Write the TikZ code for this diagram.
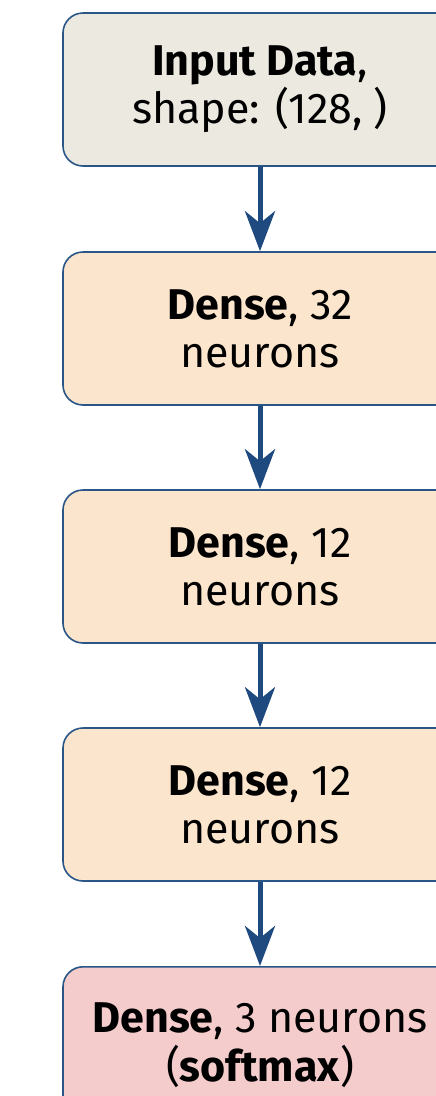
\documentclass[tikz,border=0pt]{standalone}
\usepackage{fontspec}
\setmainfont{Fira Sans}
\usetikzlibrary{arrows.meta}
\definecolor{edgeblue}{HTML}{2A5587}
\definecolor{arrowblue}{HTML}{1F4A80}
\definecolor{inputfill}{HTML}{ECE9E0}
\definecolor{densefill}{HTML}{FCE5CD}
\definecolor{outfill}{HTML}{F4CCCC}
\tikzset{
  layerfont/.style={font=\fontsize{43}{48}\selectfont},
  layer/.style={draw=edgeblue, line width=1.6pt, rounded corners=20pt,
    minimum width=394pt, minimum height=153pt, align=center,
    inner sep=0pt, layerfont},
  flow/.style={draw=arrowblue, line width=5pt,
    -{Stealth[length=40pt, width=30pt, inset=12pt]}},
}
\begin{document}
\begin{tikzpicture}[x=1pt, y=1pt]
\useasboundingbox (0,0) rectangle (436,-1096);
\clip (0,0) rectangle (436,-1096);
\node[layer, fill=inputfill] (in) at (260,-89.5) {\textbf{Input Data},\\shape: (128, )};
\node[layer, fill=densefill] (d1) at (260,-328.5) {\textbf{Dense}, 32\\neurons};
\node[layer, fill=densefill] (d2) at (260,-566.5) {\textbf{Dense}, 12\\neurons};
\node[layer, fill=densefill] (d3) at (260,-804.5) {\textbf{Dense}, 12\\neurons};
\node[layer, fill=outfill, minimum height=190pt, anchor=north] (out) at (260,-966) {};
\node[layerfont, inner sep=0pt, anchor=base] (outtop) at (260,-1032) {\textbf{Dense}, 3 neurons};
\node[layerfont, inner sep=0pt, anchor=base] (outbot) at (260,-1081) {(\textbf{softmax})};
\draw[flow] (in.south) -- (d1.north);
\draw[flow] (d1.south) -- (d2.north);
\draw[flow] (d2.south) -- (d3.north);
\draw[flow] (d3.south) -- (out.north);
\end{tikzpicture}
\end{document}
